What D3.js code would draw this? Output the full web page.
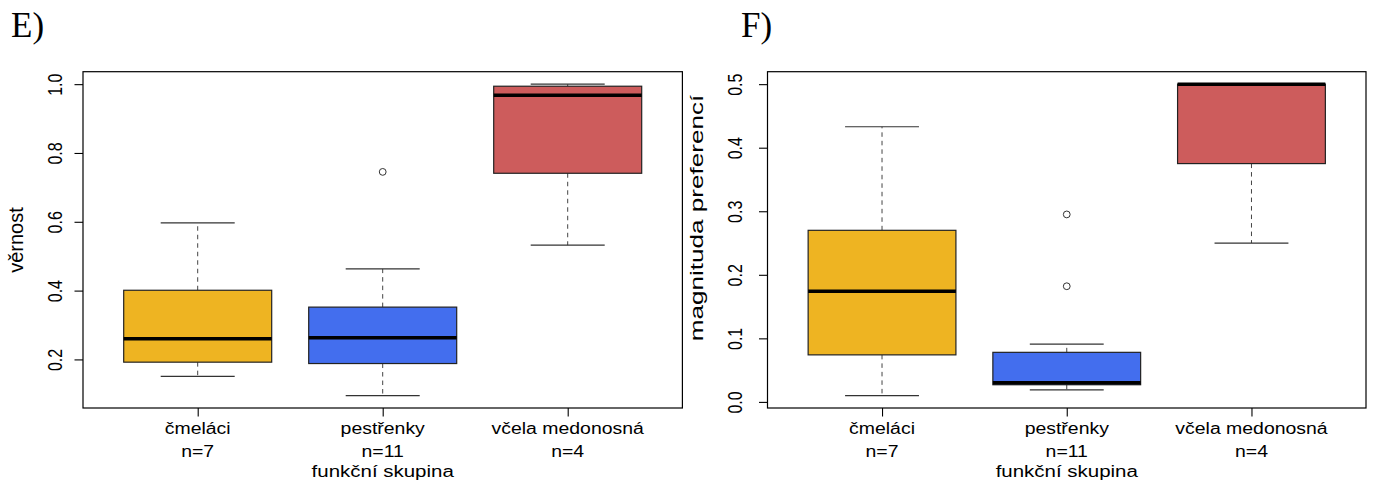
<!DOCTYPE html>
<html>
<head>
<meta charset="utf-8">
<script src="https://cdn.jsdelivr.net/npm/d3@7"></script>
<style>
  body { margin: 0; background: #fff; }
  svg { display: block; }
  text { font-family: "Liberation Sans", Arial, sans-serif; fill: #000; }
</style>
</head>
<body>
<svg id="chart" width="1373" height="488"></svg>
<script>
// Functional groups and their sample sizes
const categories = ["čmeláci", "pestřenky", "včela medonosná"];
const groupSizes = [7, 11, 4];
const boxColors = ["#EEB422", "#436EEE", "#CD5C5C"];

// E) věrnost – five-number summaries per group
const fidelityLow     = [0.151, 0.095, 0.532];
const fidelityQ1      = [0.192, 0.188, 0.741];
const fidelityMedian  = [0.260, 0.263, 0.968];
const fidelityQ3      = [0.401, 0.352, 0.994];
const fidelityHigh    = [0.597, 0.463, 1.000];
const fidelityOutliers = [[], [0.745], []];
const fidelityTicks   = [0.2, 0.4, 0.6, 0.8, 1.0];

// F) magnituda preferencí – five-number summaries per group
const magnitudeLow     = [0.010, 0.019, 0.250];
const magnitudeQ1      = [0.074, 0.027, 0.375];
const magnitudeMedian  = [0.174, 0.030, 0.500];
const magnitudeQ3      = [0.270, 0.078, 0.500];
const magnitudeHigh    = [0.433, 0.091, 0.500];
const magnitudeOutliers = [[], [0.295, 0.182], []];
const magnitudeTicks   = [0.0, 0.1, 0.2, 0.3, 0.4, 0.5];

const svg = d3.select("#chart");

// horizontal text, optionally stretched along its direction
function hText(parent, x, y, str, size, sx) {
  return parent.append("text")
    .attr("transform", `translate(${x},${y}) scale(${sx},1)`)
    .attr("text-anchor", "middle")
    .style("font-size", size + "px")
    .text(str);
}
// vertical text reading bottom-to-top, baseline at x
function vText(parent, x, y, str, size, along) {
  return parent.append("text")
    .attr("transform", `translate(${x},${y}) rotate(-90) scale(${along},1)`)
    .attr("text-anchor", "middle")
    .style("font-size", size + "px")
    .text(str);
}

function drawPanel(p) {
  const g = svg.append("g");
  const n = categories.length;
  const x = d3.scaleLinear()
    .domain([0.5 - 0.04 * n, n + 0.5 + 0.04 * n])
    .range([p.x0, p.x1]);
  const allVals = p.low.concat(p.high, p.outliers.flat());
  const lo = d3.min(allVals), hi = d3.max(allVals);
  const pad = (hi - lo) * 0.04;
  const y = d3.scaleLinear().domain([lo - pad, hi + pad]).range([p.y1, p.y0]);

  const boxW = x(0.8) - x(0);
  const capW = boxW / 2;

  const groups = g.selectAll("g.grp")
    .data(categories.map((c, i) => ({
      c, i, low: p.low[i], q1: p.q1[i], med: p.median[i], q3: p.q3[i],
      high: p.high[i], out: p.outliers[i], col: boxColors[i]
    })))
    .join("g").attr("class", "grp");

  // whiskers (dashed) and staples
  groups.append("line")
    .attr("x1", d => x(d.i + 1)).attr("x2", d => x(d.i + 1))
    .attr("y1", d => y(d.q3)).attr("y2", d => y(d.high))
    .attr("stroke", "#444").attr("stroke-width", 1).attr("stroke-dasharray", "4.5,4");
  groups.append("line")
    .attr("x1", d => x(d.i + 1)).attr("x2", d => x(d.i + 1))
    .attr("y1", d => y(d.q1)).attr("y2", d => y(d.low))
    .attr("stroke", "#444").attr("stroke-width", 1).attr("stroke-dasharray", "4.5,4");
  groups.append("line")
    .attr("x1", d => x(d.i + 1) - capW / 2).attr("x2", d => x(d.i + 1) + capW / 2)
    .attr("y1", d => y(d.high)).attr("y2", d => y(d.high))
    .attr("stroke", "#333").attr("stroke-width", 1.2);
  groups.append("line")
    .attr("x1", d => x(d.i + 1) - capW / 2).attr("x2", d => x(d.i + 1) + capW / 2)
    .attr("y1", d => y(d.low)).attr("y2", d => y(d.low))
    .attr("stroke", "#333").attr("stroke-width", 1.2);

  // boxes
  groups.append("rect")
    .attr("x", d => x(d.i + 1) - boxW / 2)
    .attr("y", d => y(d.q3))
    .attr("width", boxW)
    .attr("height", d => y(d.q1) - y(d.q3))
    .attr("fill", d => d.col)
    .attr("stroke", "#222").attr("stroke-width", 1.2);

  // medians
  groups.append("line")
    .attr("x1", d => x(d.i + 1) - boxW / 2).attr("x2", d => x(d.i + 1) + boxW / 2)
    .attr("y1", d => y(d.med)).attr("y2", d => y(d.med))
    .attr("stroke", "#000").attr("stroke-width", 3.5);

  // outliers
  groups.selectAll("circle")
    .data(d => d.out.map(v => ({ v, i: d.i })))
    .join("circle")
    .attr("cx", d => x(d.i + 1)).attr("cy", d => y(d.v)).attr("r", 3.4)
    .attr("fill", "none").attr("stroke", "#333").attr("stroke-width", 1);

  // frame
  g.append("rect")
    .attr("x", p.x0).attr("y", p.y0)
    .attr("width", p.x1 - p.x0).attr("height", p.y1 - p.y0)
    .attr("fill", "none").attr("stroke", "#000").attr("stroke-width", 1.2);

  // y axis
  const ya = g.append("g").attr("transform", `translate(${p.x0},0)`)
    .call(d3.axisLeft(y).tickValues(p.ticks).tickSize(8.5).tickFormat(d3.format(".1f")));
  ya.select(".domain").remove();
  ya.selectAll(".tick line").attr("stroke", "#000").attr("stroke-width", 1.1);
  ya.selectAll(".tick text")
    .attr("x", null).attr("dy", null)
    .attr("text-anchor", "middle")
    .attr("transform", `translate(${-p.labelGap},0) rotate(-90) scale(0.8,1)`)
    .style("font-size", "20px")
    .style("font-family", "Liberation Sans, Arial, sans-serif")
    .attr("fill", "#000");

  // x axis ticks
  const xa = g.append("g").attr("transform", `translate(0,${p.y1})`)
    .call(d3.axisBottom(x).tickValues(d3.range(1, n + 1)).tickSize(8.5).tickFormat(""));
  xa.select(".domain").remove();
  xa.selectAll(".tick line").attr("stroke", "#000").attr("stroke-width", 1.1);

  // category labels and sample sizes
  categories.forEach((c, i) => {
    hText(g, x(i + 1), 434, c, 15.8, 1.23);
    hText(g, x(i + 1), 457, "n=" + groupSizes[i], 15.8, 1.23);
  });
  hText(g, x(2), 477, "funkční skupina", 16, 1.28);

  // y title
  vText(g, p.ytitleX, p.ytitleY, p.ylab, p.ylabSize, p.ylabAlong);

  // panel letter
  g.append("text")
    .attr("x", p.letterX).attr("y", 37)
    .style("font-family", "Liberation Serif, 'Times New Roman', serif")
    .style("font-size", "35px")
    .text(p.letter);
}

drawPanel({
  letter: "E)", letterX: 11,
  ylab: "věrnost", ytitleX: 23, ytitleY: 240, ylabSize: 20, ylabAlong: 1.0,
  x0: 83, x1: 682.4, y0: 71.7, y1: 408, labelGap: 21,
  low: fidelityLow, q1: fidelityQ1, median: fidelityMedian, q3: fidelityQ3,
  high: fidelityHigh, outliers: fidelityOutliers, ticks: fidelityTicks
});

drawPanel({
  letter: "F)", letterX: 741,
  ylab: "magnituda preferencí", ytitleX: 703, ytitleY: 218, ylabSize: 18, ylabAlong: 1.45,
  x0: 767.5, x1: 1366, y0: 71.7, y1: 408, labelGap: 25.5,
  low: magnitudeLow, q1: magnitudeQ1, median: magnitudeMedian, q3: magnitudeQ3,
  high: magnitudeHigh, outliers: magnitudeOutliers, ticks: magnitudeTicks
});
</script>
</body>
</html>
